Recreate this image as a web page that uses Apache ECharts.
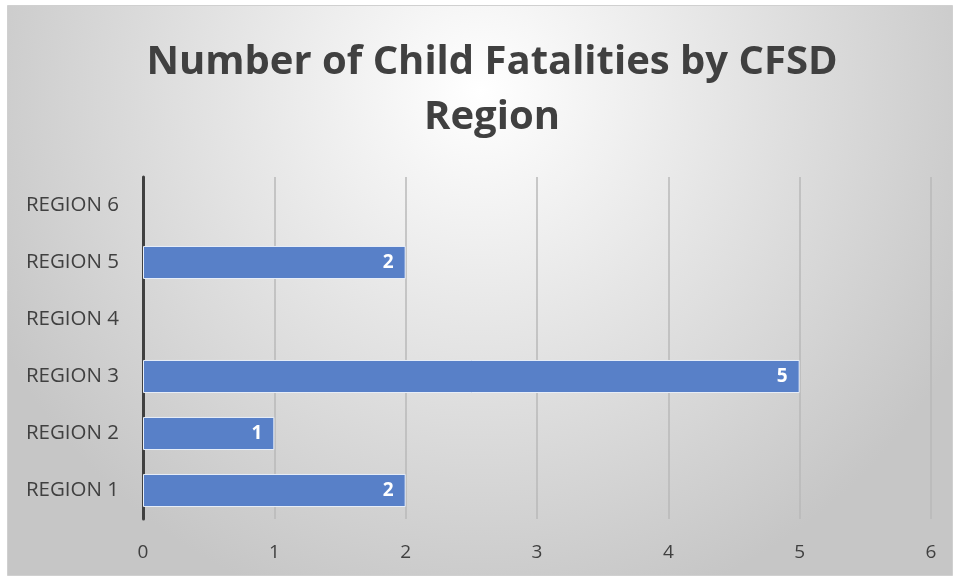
<!DOCTYPE html>
<html><head><meta charset="utf-8">
<script src="https://cdn.jsdelivr.net/npm/echarts@6/dist/echarts.min.js"></script>
<style>html,body{margin:0;padding:0;background:#fff}#c{width:956px;height:578px}</style>
</head><body><div id="c"></div>
<script>
const categories = ["REGION 1","REGION 2","REGION 3","REGION 4","REGION 5","REGION 6"];
const fatalities = [2, 1, 5, null, 2, null];
const titleText = "Number of Child Fatalities by CFSD\nRegion";

const chart = echarts.init(document.getElementById('c'));
chart.setOption({
  animation: false,
  graphic: [{
    type: 'rect', z: -10, silent: true,
    shape: {x: 7.5, y: 5.5, width: 945, height: 570},
    style: {
      fill: new echarts.graphic.RadialGradient(0.5, 0.15, 0.95, [
        {offset: 0, color: '#ffffff'},
        {offset: 1, color: '#c6c6c6'}
      ]),
      stroke: '#d0d0d0', lineWidth: 1
    }
  }],
  title: {
    text: titleText, left: 487, top: 30, textAlign: 'center',
    textStyle: {fontFamily: 'Open Sans', fontWeight: 'bold', fontSize: 40, color: '#404040', lineHeight: 55}
  },
  grid: {left: 143, right: 25, top: 177, bottom: 59, containLabel: false},
  xAxis: {
    type: 'value', min: 0, max: 6, interval: 1,
    axisLine: {show: false}, axisTick: {show: false},
    axisLabel: {fontFamily: 'Open Sans', fontSize: 19, color: '#404040', margin: 24},
    splitLine: {lineStyle: {color: '#b8b8b8', width: 1.5}}
  },
  yAxis: {
    type: 'category', data: categories,
    axisLine: {lineStyle: {color: '#404040', width: 3}},
    axisTick: {show: false},
    axisLabel: {fontFamily: 'Open Sans', fontSize: 20.5, color: '#404040', margin: 24}
  },
  series: [{
    type: 'bar', data: fatalities, barWidth: '58%',
    itemStyle: {color: '#5880c8', borderColor: '#e8eef8', borderWidth: 1},
    label: {show: true, position: 'insideRight', distance: 12, color: '#ffffff',
      fontFamily: 'Open Sans', fontWeight: 'bold', fontSize: 19}
  }]
});
</script></body></html>
